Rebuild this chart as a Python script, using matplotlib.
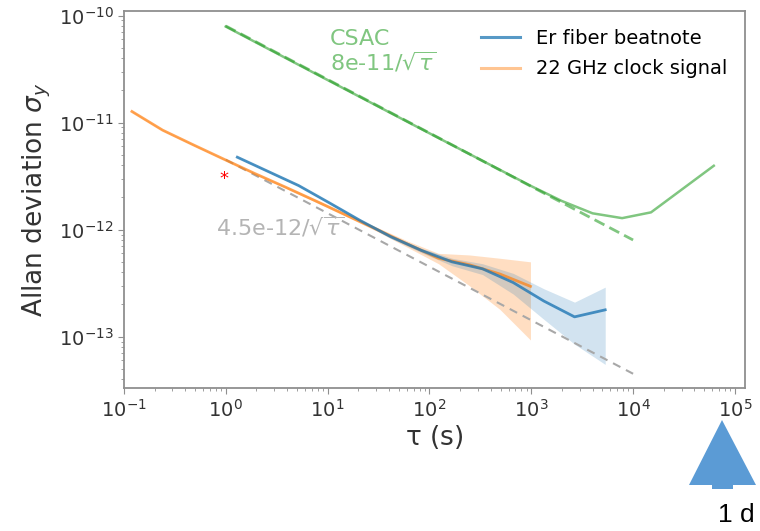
import matplotlib
matplotlib.use("Agg")
import matplotlib.pyplot as plt
import numpy as np
from matplotlib.lines import Line2D
from matplotlib.patches import Polygon

# --- data -------------------------------------------------------------
# 22 GHz clock signal (octave-spaced averaging times)
tau_clock = [0.12, 0.24, 0.48, 0.96, 1.92, 3.84, 7.68, 15.36, 30.72, 61.44,
             122.9, 245.8, 491.5, 983.0]
adev_clock = [1.27e-11, 8.5e-12, 6.2e-12, 4.55e-12, 3.35e-12, 2.5e-12,
              1.85e-12, 1.36e-12, 1.0e-12, 7.3e-13, 5.4e-13, 4.7e-13,
              3.85e-13, 2.95e-13]
clock_lo = [1.25e-11, 8.4e-12, 6.1e-12, 4.5e-12, 3.3e-12, 2.45e-12,
            1.8e-12, 1.32e-12, 9.6e-13, 6.8e-13, 4.8e-13, 3.0e-13,
            1.8e-13, 9.3e-14]
clock_hi = [1.29e-11, 8.6e-12, 6.3e-12, 4.6e-12, 3.4e-12, 2.55e-12,
            1.9e-12, 1.4e-12, 1.05e-12, 7.8e-13, 6.0e-13, 5.8e-13,
            5.4e-13, 5.0e-13]

# Er fiber beatnote
tau_er = [1.3, 2.6, 5.2, 10.4, 20.8, 41.6, 83.2, 166.4, 332.8, 665.6,
          1331.0, 2662.0, 5325.0]
adev_er = [4.75e-12, 3.5e-12, 2.58e-12, 1.78e-12, 1.22e-12, 8.6e-13,
           6.4e-13, 5.0e-13, 4.3e-13, 3.2e-13, 2.15e-13, 1.53e-13, 1.78e-13]
er_lo = [4.7e-12, 3.45e-12, 2.54e-12, 1.75e-12, 1.19e-12, 8.3e-13,
         6.1e-13, 4.6e-13, 3.8e-13, 2.5e-13, 1.45e-13, 8.5e-14, 5.5e-14]
er_hi = [4.8e-12, 3.55e-12, 2.62e-12, 1.81e-12, 1.25e-12, 8.9e-13,
         6.7e-13, 5.4e-13, 4.8e-13, 3.9e-13, 2.8e-13, 2.1e-13, 2.9e-13]

# CSAC measured stability
tau_csac = [1.0, 10.0, 100.0, 1000.0, 2000.0, 4000.0, 7800.0, 15000.0,
            62000.0]
adev_csac = [7.9e-11, 2.5e-11, 7.95e-12, 2.55e-12, 1.85e-12, 1.42e-12,
             1.28e-12, 1.45e-12, 3.95e-12]

# white-frequency-noise reference slopes  (coefficient / sqrt(tau))
csac_coef = 8e-11
clock_coef = 4.5e-12
tau_fit = np.array([1.0, 1e4])

# --- figure -------------------------------------------------------------
fig = plt.figure(figsize=(7.6, 5.31), dpi=100)
ax = fig.add_axes([0.163, 0.269, 0.817, 0.71])
ax.set_xscale("log")
ax.set_yscale("log")

c_blue, c_orange, c_green = "#1f77b4", "#ff7f0e", "#2ca02c"

ax.fill_between(tau_clock, clock_lo, clock_hi, color=c_orange, alpha=0.25,
                lw=0)
ax.fill_between(tau_er, er_lo, er_hi, color=c_blue, alpha=0.2, lw=0)

ax.plot(tau_fit, clock_coef / np.sqrt(tau_fit), ls=(0, (4, 3)),
        color="#a8a8a8", lw=1.5)
ax.plot(tau_fit, csac_coef / np.sqrt(tau_fit), ls=(0, (4, 2)),
        color=c_green, alpha=0.6, lw=2)

ax.plot(tau_csac, adev_csac, color=c_green, alpha=0.6, lw=1.8)
ax.plot(tau_clock, adev_clock, color=c_orange, alpha=0.7, lw=2)
ax.plot(tau_er, adev_er, color=c_blue, alpha=0.8, lw=2)

ax.set_xlim(0.1, 1.25e5)
ax.set_ylim(3.3e-14, 1.1e-10)

ax.text(10.5, 4.6e-11, "CSAC\n8e-11/$\\sqrt{\\tau}$", color=c_green,
        alpha=0.6, fontsize=16, ha="left", va="center", linespacing=1.05)
ax.text(0.81, 1.06e-12, "4.5e-12/$\\sqrt{\\tau}$", color="#b4b4b4",
        fontsize=16, ha="left", va="center")
ax.text(0.96, 3.0e-12, "*", color="red", fontsize=13, ha="center",
        va="center")

handles = [Line2D([], [], color=c_blue, alpha=0.75, lw=2.2),
           Line2D([], [], color=c_orange, alpha=0.45, lw=2.2)]
ax.legend(handles, ["Er fiber beatnote", "22 GHz clock signal"],
          loc="upper right", frameon=False, fontsize=14,
          handlelength=2.0, handletextpad=0.8, labelspacing=0.6,
          bbox_to_anchor=(1.0, 1.0))

ax.set_xlabel(r"$\mathrm{\tau}$ (s)", fontsize=19, color="#333333",
              labelpad=2)
ax.set_ylabel(r"Allan deviation $\sigma_y$", fontsize=19, color="#333333",
              labelpad=4)

for s in ax.spines.values():
    s.set_color("#8f8f8f")
    s.set_linewidth(1.3)
ax.tick_params(which="major", length=4, color="#8f8f8f", labelsize=14,
               labelcolor="#333333")
ax.tick_params(which="minor", length=2, color="#8f8f8f")
ax.set_xticks([1e-1, 1e0, 1e1, 1e2, 1e3, 1e4, 1e5])
ax.set_yticks([1e-13, 1e-12, 1e-11, 1e-10])

# marker for one day of averaging time, below the axis
arrow = Polygon([(689 / 760, 1 - 485 / 531), (722 / 760, 1 - 420 / 531),
                 (756 / 760, 1 - 485 / 531), (733 / 760, 1 - 485 / 531),
                 (733 / 760, 1 - 489 / 531), (712 / 760, 1 - 489 / 531),
                 (712 / 760, 1 - 485 / 531)],
                closed=True, transform=fig.transFigure, color="#5b9bd5",
                lw=0)
fig.patches.append(arrow)
fig.text(736 / 760, 1 - 515 / 531, "1 d", fontsize=19, ha="center",
         va="center", family="Liberation Sans", color="black")

fig.savefig("out.png", dpi=100)
